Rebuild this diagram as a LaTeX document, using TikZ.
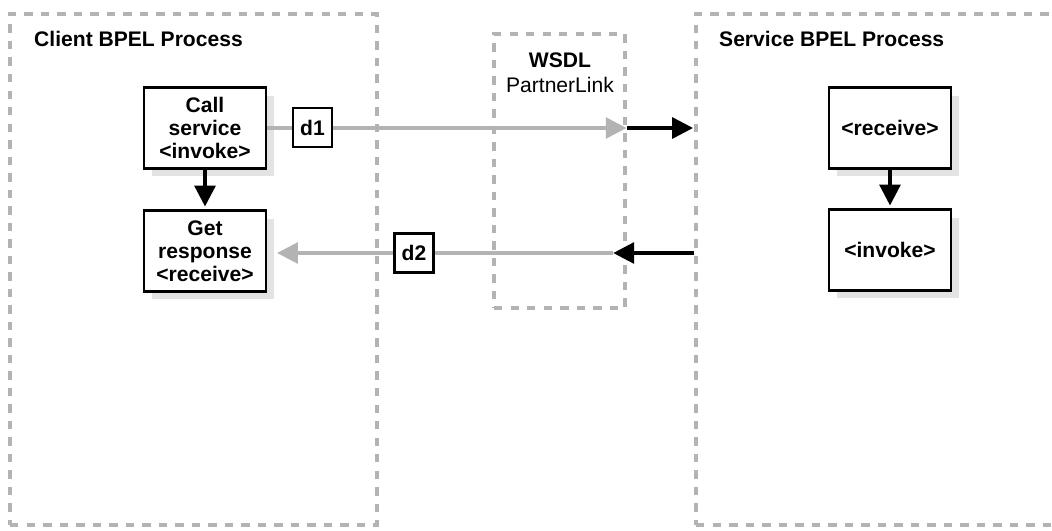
\documentclass[tikz,border=0pt]{standalone}
\usepackage{fontspec}
\setmainfont{Liberation Sans}
\usetikzlibrary{arrows.meta,shadows}
\definecolor{linegray}{HTML}{B3B3B3}
\definecolor{shadowgray}{HTML}{E3E3E3}
\tikzset{
    region/.style={draw=linegray, line width=2.1pt, dash pattern=on 4.8pt off 4.6pt, inner sep=0pt},
    actbox/.style={draw, line width=1.3pt, fill=white, align=center, inner sep=0pt,
        font=\fontsize{12}{13}\selectfont\bfseries, minimum width=2.44cm, minimum height=1.62cm,
        drop shadow={shadow xshift=0.16cm, shadow yshift=-0.16cm, fill=shadowgray, opacity=1}},
    datbox/.style={draw, line width=1.3pt, fill=white, inner sep=0pt, minimum size=0.78cm,
        font=\fontsize{12}{13}\selectfont\bfseries},
    grayflow/.style={draw=linegray, line width=2.8pt, -{Triangle[length=12pt,width=11.5pt]}},
    blackflow/.style={draw=black, line width=2.8pt, -{Triangle[length=12pt,width=11.5pt]}},
    title/.style={anchor=base west, font=\fontsize{12}{13}\selectfont\bfseries}
}
\begin{document}
\begin{tikzpicture}[x=0.02cm, y=-0.02cm, font=\fontsize{12}{13}\selectfont]
                \useasboundingbox (0,0) rectangle (1052,531);

                % Obszary procesow i WSDL
                \node[region, minimum width=7.34cm, minimum height=10.22cm] (client) at (193.5,269.5) {};
                \node[region, minimum width=2.62cm, minimum height=5.48cm] (wsdl) at (559.5,171) {};
                \node[region, minimum width=8cm, minimum height=10.22cm] (service) at (896,269.5) {};

                \node[title] (clienttitle) at (28,46) {Client BPEL Process};
                \node[title] (servicetitle) at (713,46) {Service BPEL Process};
                \node[anchor=base, font=\fontsize{12}{13}\selectfont\bfseries] (wsdltitle) at (560,67) {WSDL};
                \node[anchor=base] (plink) at (560,92) {PartnerLink};

                % Aktywnosci
                \node[actbox] (call) at (205,128) {Call\\service\\<invoke>};
                \node[actbox] (get) at (205,251) {Get\\response\\<receive>};
                \node[actbox] (recv) at (890,128) {<receive>};
                \node[actbox] (inv) at (890,250) {<invoke>};

                \draw[blackflow, shorten >=1.5pt] (call) -- (get);
                \draw[blackflow, shorten >=1.5pt] (recv) -- (inv);

                % Przeplyw komunikatow
                \coordinate (wsdlout) at (613,253);
                \draw[grayflow] (call.east) -- (wsdl.east |- call.east);
                \draw[blackflow, shorten >=0.5pt] (wsdl.east |- call.east) -- (service.west |- call.east);
                \draw[grayflow, shorten >=5.5pt] (wsdlout) -- (get.east |- wsdlout);
                \draw[blackflow] (service.west |- wsdlout) -- (wsdlout);

                \node[datbox] (d1) at (312.5,127.5) {d1};
                \node[datbox] (d2) at (414,253) {d2};
            \end{tikzpicture}
\end{document}
